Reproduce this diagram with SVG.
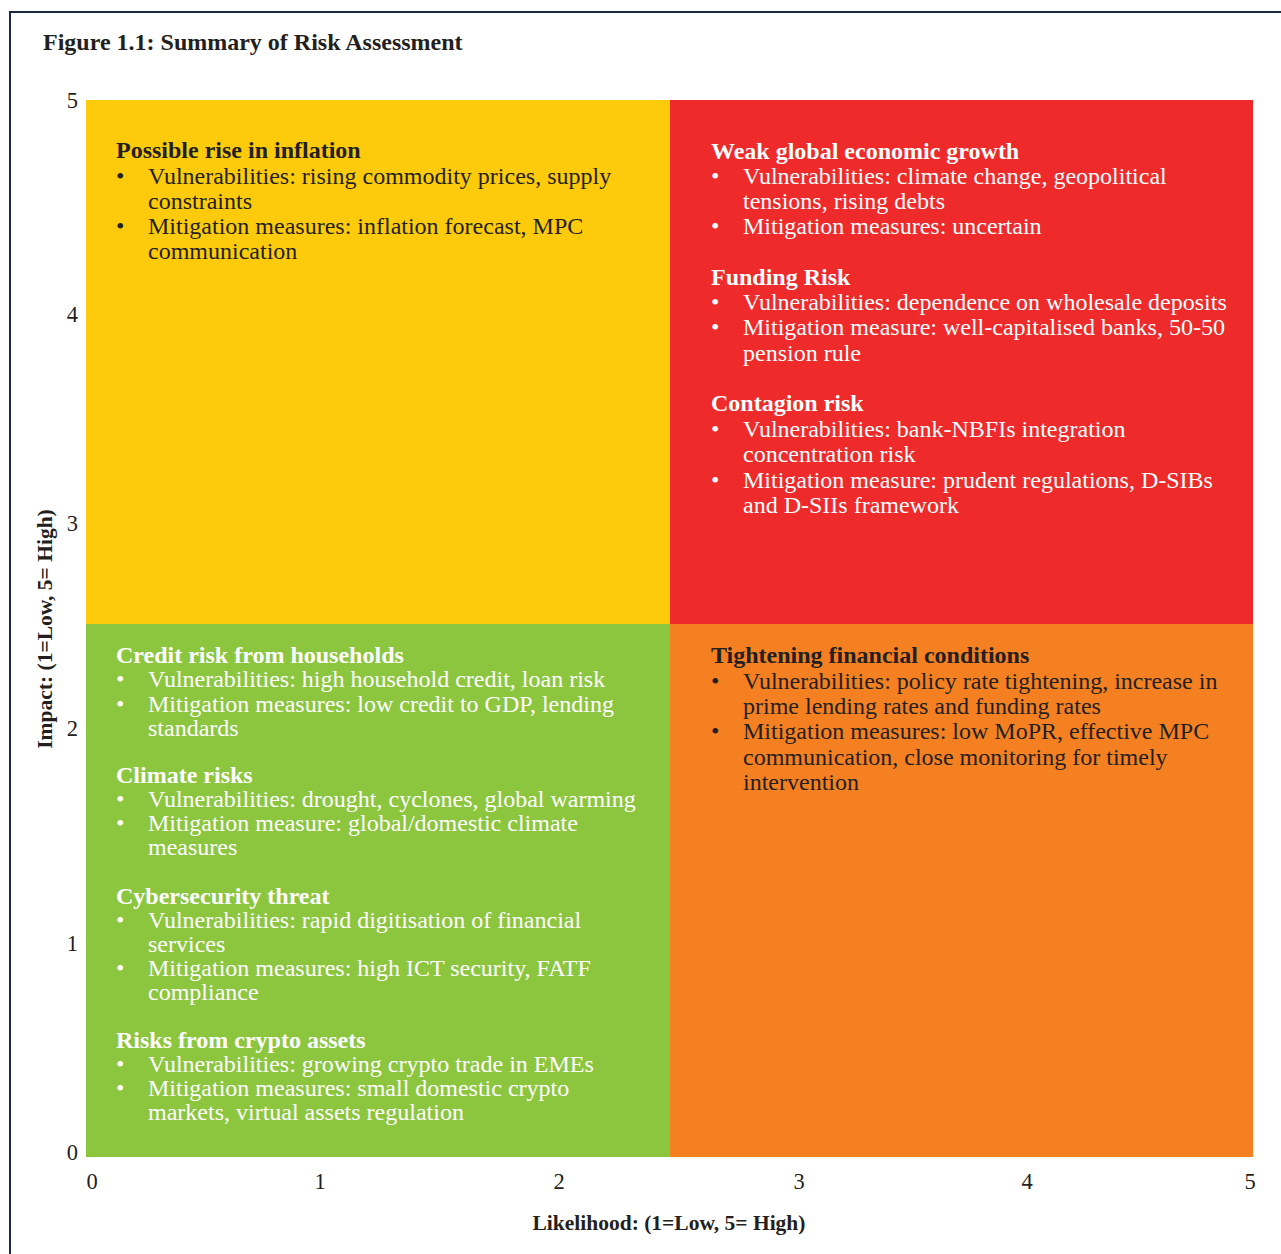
<svg xmlns="http://www.w3.org/2000/svg" width="1281" height="1254" viewBox="0 0 1281 1254">
<style>
text{font-family:"Liberation Serif","Times New Roman",serif;font-size:24px;fill:#231f20}
.b{font-weight:bold}
.w text,.w{fill:#ffffff}
.ax{font-size:22.5px;fill:#231f20}
.ttl{font-size:24px;font-weight:bold}
.axt{font-size:21.5px;font-weight:bold}
</style>
<rect x="0" y="0" width="1281" height="1254" fill="#ffffff"/>
<rect x="10" y="12" width="1300" height="1270" fill="none" stroke="#1c2a48" stroke-width="2"/>
<text class="ttl" x="43" y="50">Figure 1.1: Summary of Risk Assessment</text>

<g id="quad-yellow">
<rect x="86" y="100" width="585" height="525" fill="#FDCB0B"/>
<text class="b" x="116" y="158">Possible rise in inflation</text>
<text x="116" y="184">•</text><text x="148" y="184">Vulnerabilities: rising commodity prices, supply</text>
<text x="148" y="209">constraints</text>
<text x="116" y="234">•</text><text x="148" y="234">Mitigation measures: inflation forecast, MPC</text>
<text x="148" y="259">communication</text>
</g>

<g id="quad-red" class="w">
<rect x="670" y="100" width="583" height="524" fill="#EE2A2B"/>
<text class="b" x="711" y="159">Weak global economic growth</text>
<text x="711" y="184">•</text><text x="743" y="184">Vulnerabilities: climate change, geopolitical</text>
<text x="743" y="209">tensions, rising debts</text>
<text x="711" y="234">•</text><text x="743" y="234">Mitigation measures: uncertain</text>
<text class="b" x="711" y="285">Funding Risk</text>
<text x="711" y="310">•</text><text x="743" y="310">Vulnerabilities: dependence on wholesale deposits</text>
<text x="711" y="335">•</text><text x="743" y="335">Mitigation measure: well-capitalised banks, 50-50</text>
<text x="743" y="361">pension rule</text>
<text class="b" x="711" y="411">Contagion risk</text>
<text x="711" y="437">•</text><text x="743" y="437">Vulnerabilities: bank-NBFIs integration</text>
<text x="743" y="462">concentration risk</text>
<text x="711" y="488">•</text><text x="743" y="488">Mitigation measure: prudent regulations, D-SIBs</text>
<text x="743" y="513">and D-SIIs framework</text>
</g>

<g id="quad-green" class="w">
<rect x="86" y="624" width="584" height="533" fill="#8CC63F"/>
<text class="b" x="116" y="663">Credit risk from households</text>
<text x="116" y="687">•</text><text x="148" y="687">Vulnerabilities: high household credit, loan risk</text>
<text x="116" y="712">•</text><text x="148" y="712">Mitigation measures: low credit to GDP, lending</text>
<text x="148" y="736">standards</text>
<text class="b" x="116" y="783">Climate risks</text>
<text x="116" y="807">•</text><text x="148" y="807">Vulnerabilities: drought, cyclones, global warming</text>
<text x="116" y="831">•</text><text x="148" y="831">Mitigation measure: global/domestic climate</text>
<text x="148" y="855">measures</text>
<text class="b" x="116" y="904">Cybersecurity threat</text>
<text x="116" y="928">•</text><text x="148" y="928">Vulnerabilities: rapid digitisation of financial</text>
<text x="148" y="952">services</text>
<text x="116" y="976">•</text><text x="148" y="976">Mitigation measures: high ICT security, FATF</text>
<text x="148" y="1000">compliance</text>
<text class="b" x="116" y="1048">Risks from crypto assets</text>
<text x="116" y="1072">•</text><text x="148" y="1072">Vulnerabilities: growing crypto trade in EMEs</text>
<text x="116" y="1096">•</text><text x="148" y="1096">Mitigation measures: small domestic crypto</text>
<text x="148" y="1120">markets, virtual assets regulation</text>
</g>

<g id="quad-orange">
<rect x="670" y="624" width="583" height="533" fill="#F58021"/>
<text class="b" x="711" y="663">Tightening financial conditions</text>
<text x="711" y="689">•</text><text x="743" y="689">Vulnerabilities: policy rate tightening, increase in</text>
<text x="743" y="714">prime lending rates and funding rates</text>
<text x="711" y="739">•</text><text x="743" y="739">Mitigation measures: low MoPR, effective MPC</text>
<text x="743" y="765">communication, close monitoring for timely</text>
<text x="743" y="790">intervention</text>
</g>

<g id="axes">
<text class="ax" x="78" y="108" text-anchor="end">5</text>
<text class="ax" x="78" y="322" text-anchor="end">4</text>
<text class="ax" x="78" y="531" text-anchor="end">3</text>
<text class="ax" x="78" y="736" text-anchor="end">2</text>
<text class="ax" x="78" y="951" text-anchor="end">1</text>
<text class="ax" x="78" y="1160" text-anchor="end">0</text>
<text class="ax" x="92" y="1189" text-anchor="middle">0</text>
<text class="ax" x="320" y="1189" text-anchor="middle">1</text>
<text class="ax" x="559" y="1189" text-anchor="middle">2</text>
<text class="ax" x="799" y="1189" text-anchor="middle">3</text>
<text class="ax" x="1027" y="1189" text-anchor="middle">4</text>
<text class="ax" x="1250" y="1189" text-anchor="middle">5</text>
<text class="axt" x="669" y="1230" text-anchor="middle">Likelihood: (1=Low, 5= High)</text>
<text class="axt" transform="translate(52,629) rotate(-90)" text-anchor="middle">Impact: (1=Low, 5= High)</text>
</g>
<g id="connectors"></g>
</svg>
